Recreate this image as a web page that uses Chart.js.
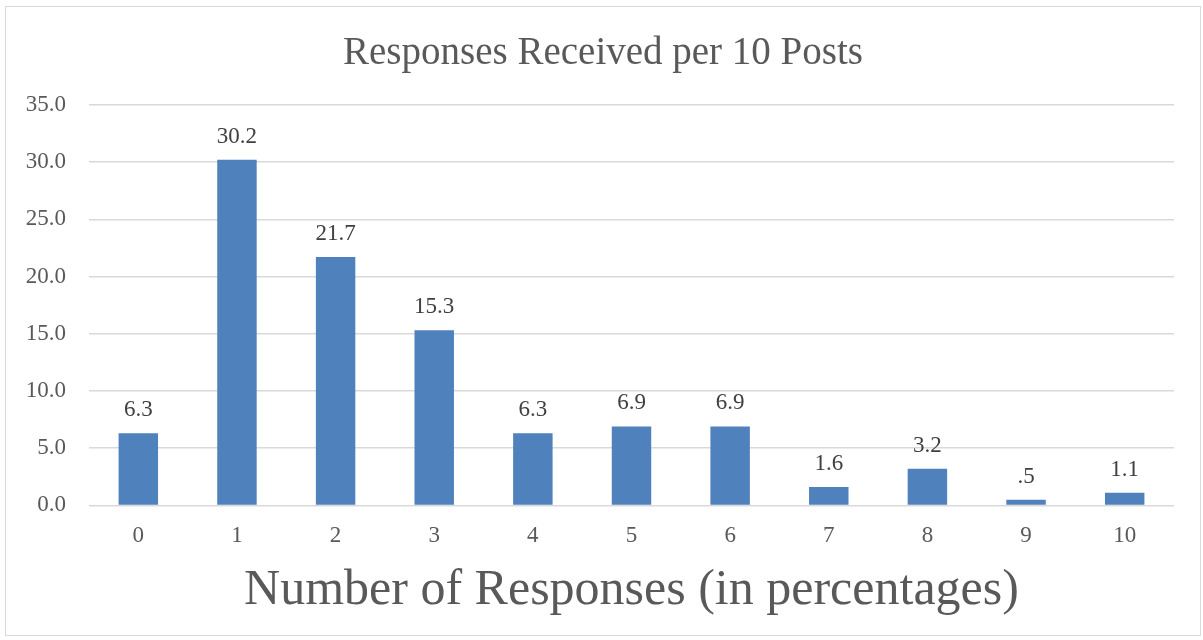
<!DOCTYPE html>
<html>
<head>
<meta charset="utf-8">
<script src="https://cdn.jsdelivr.net/npm/chart.js@4.4.1/dist/chart.umd.min.js"></script>
<style>
  html, body { margin: 0; padding: 0; background: #ffffff; }
  #frame {
    position: absolute; left: 5px; top: 6px;
    width: 1194px; height: 628px;
    border: 1.5px solid #d9d9d9; background: #ffffff;
  }
  canvas { display: block; }
</style>
</head>
<body>
<div id="frame"><canvas id="chart" width="1194" height="628"></canvas></div>
<script>
// Share of posts by number of responses received
const categories = ['0', '1', '2', '3', '4', '5', '6', '7', '8', '9', '10'];
const percentages = [6.3, 30.2, 21.7, 15.3, 6.3, 6.9, 6.9, 1.6, 3.2, 0.5, 1.1];
const yTicks = [0, 5, 10, 15, 20, 25, 30, 35];

const SERIF = "'Liberation Serif', 'DejaVu Serif', serif";

function formatLabel(v) {
  let s = v.toFixed(1);
  if (s.startsWith('0.')) s = s.slice(1);
  return s;
}

// Writes each bar's value above it
const valueLabels = {
  id: 'valueLabels',
  afterDatasetsDraw(chart) {
    const ctx = chart.ctx;
    const meta = chart.getDatasetMeta(0);
    ctx.save();
    ctx.font = '23px ' + SERIF;
    ctx.fillStyle = '#404040';
    ctx.textAlign = 'center';
    ctx.textBaseline = 'alphabetic';
    meta.data.forEach((bar, i) => {
      ctx.fillText(formatLabel(percentages[i]), bar.x, bar.y - 17);
    });
    ctx.restore();
  }
};

new Chart(document.getElementById('chart'), {
  type: 'bar',
  data: {
    labels: categories,
    datasets: [{
      data: percentages,
      backgroundColor: '#4f81bd',
      borderWidth: 0,
      categoryPercentage: 1.0,
      barPercentage: 0.4
    }]
  },
  options: {
    responsive: false,
    animation: false,
    layout: { padding: { left: 0, right: 0, top: 0, bottom: 21 } },
    plugins: {
      legend: { display: false },
      tooltip: { enabled: false },
      title: {
        display: true,
        text: 'Responses Received per 10 Posts',
        color: '#595959',
        font: { family: SERIF, size: 39, weight: 'normal' },
        padding: { top: 23, bottom: 28 }
      }
    },
    scales: {
      x: {
        grid: { display: false, drawTicks: false },
        border: { display: false },
        ticks: {
          color: '#595959',
          font: { family: SERIF, size: 23 },
          padding: 17
        },
        title: {
          display: true,
          text: 'Number of Responses (in percentages)',
          color: '#595959',
          font: { family: SERIF, size: 50, lineHeight: 0.94 },
          padding: { top: 0, bottom: 0 }
        }
      },
      y: {
        min: 0,
        max: 35,
        afterBuildTicks(scale) {
          scale.ticks = yTicks.map(v => ({ value: v }));
        },
        afterFit(scale) { scale.width = 83; },
        grid: { color: '#d9d9d9', lineWidth: 1.5, drawTicks: false },
        border: { display: false },
        ticks: {
          color: '#595959',
          font: { family: SERIF, size: 23 },
          padding: 23,
          callback: v => Number(v).toFixed(1)
        }
      },
      // empty right-hand margin beside the plot area
      margin: {
        type: 'linear',
        position: 'right',
        min: 0,
        max: 35,
        afterFit(scale) { scale.width = 26; },
        grid: { display: false, drawTicks: false },
        border: { display: false },
        ticks: { display: false }
      }
    }
  },
  plugins: [valueLabels]
});
</script>
</body>
</html>
